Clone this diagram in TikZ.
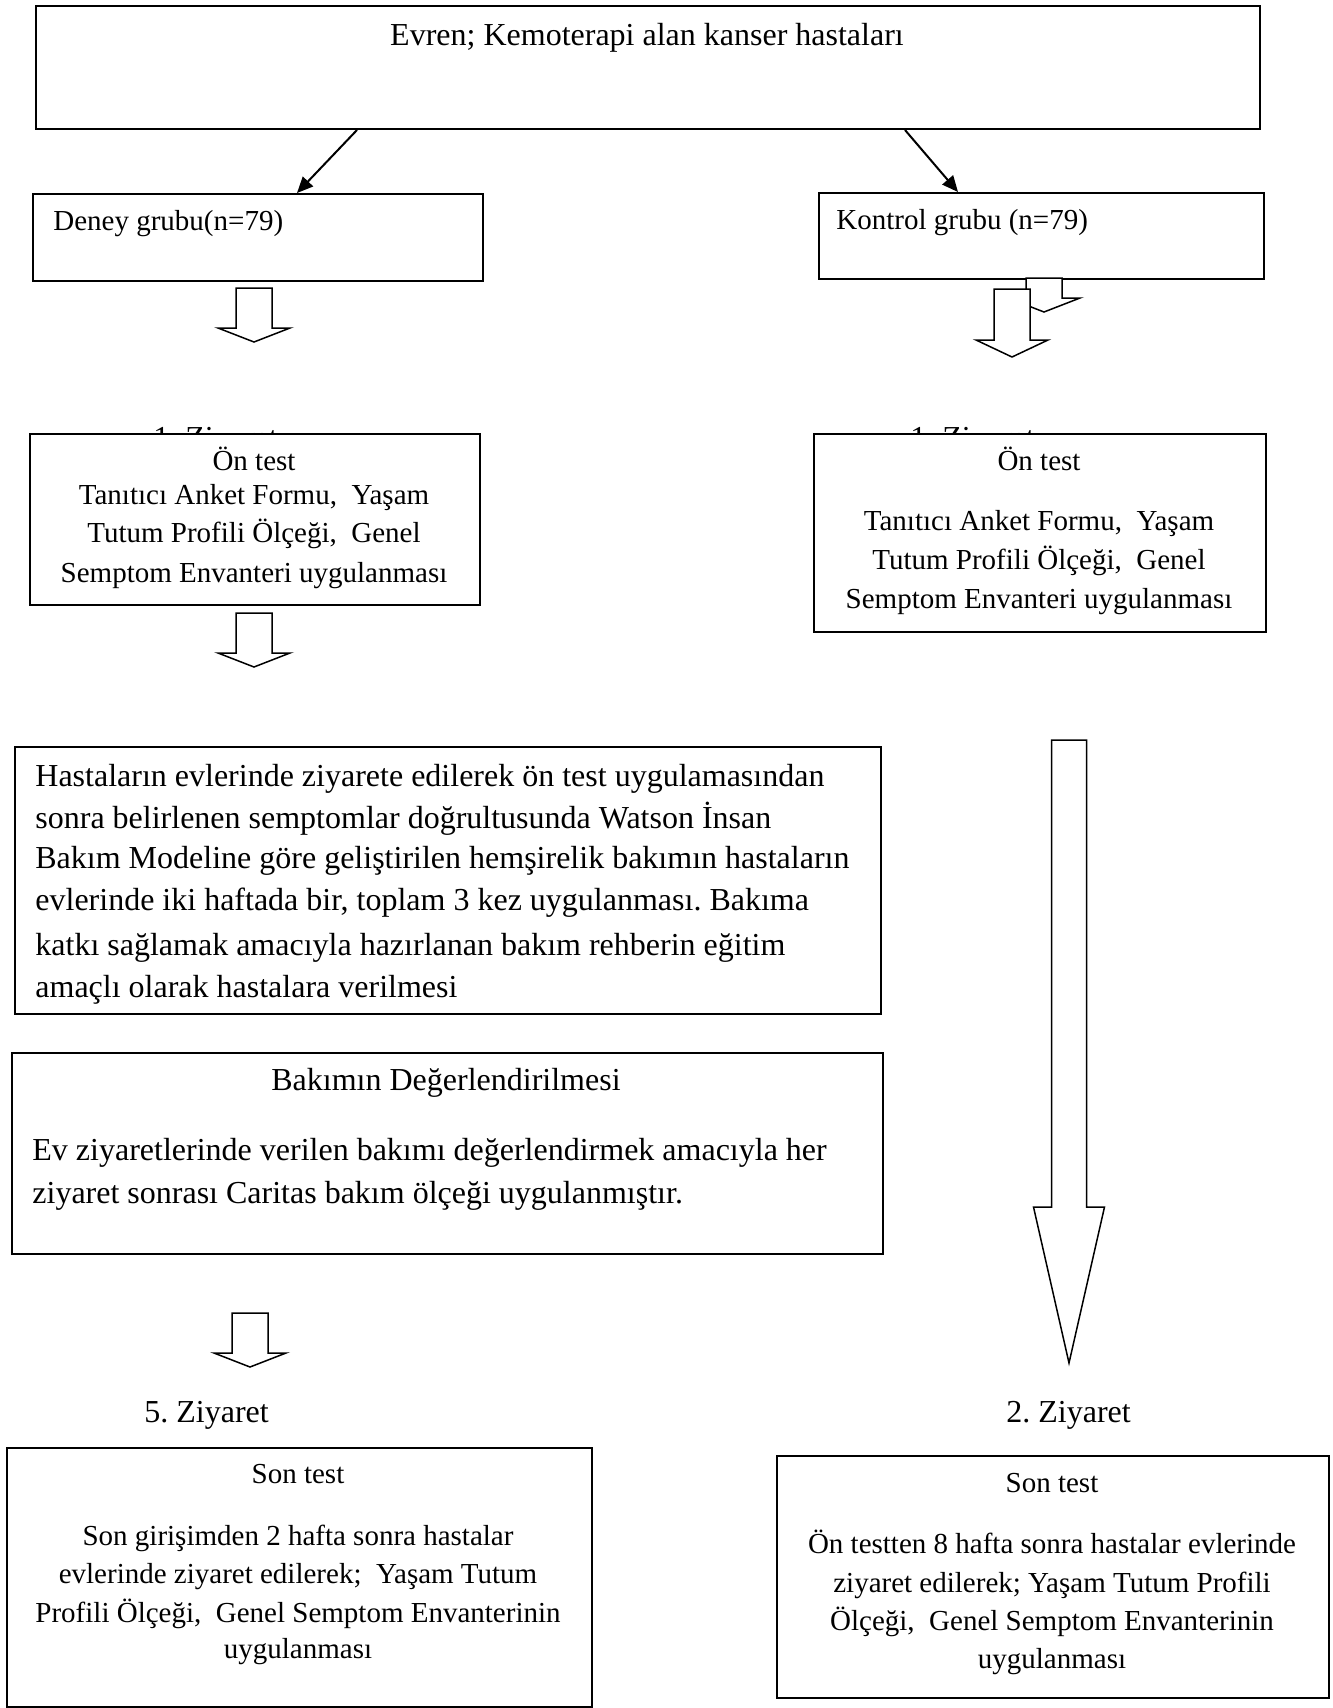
\documentclass[tikz,border=0pt]{standalone}
\usepackage{fontspec}
\setmainfont{Liberation Serif}
\usetikzlibrary{arrows.meta}
\frenchspacing

\tikzset{
  kutu/.style={draw,line width=1pt,fill=white,inner sep=0pt,anchor=north west},
  metin/.style={font=\fontsize{14.5}{17}\selectfont,inner sep=0pt},
  buyuk/.style={font=\fontsize{16}{19}\selectfont,inner sep=0pt},
  blok/.style={draw,line width=0.75pt,fill=white,line join=miter},
  ok/.style={line width=1pt,-{Triangle[length=8pt,width=7pt]}}
}
% bos blok ok: x, yarim govde, yarim bas, ust, bas ustu, uc
\newcommand{\blokok}[6]{%
  \draw[blok] (#1-#2,#4) -- (#1+#2,#4) -- (#1+#2,#5) -- (#1+#3,#5) -- (#1,#6)
    -- (#1-#3,#5) -- (#1-#2,#5) -- cycle;}

\begin{document}
\begin{tikzpicture}[x=0.5pt,y=-0.5pt,line cap=butt]
\useasboundingbox (0,0) rectangle (1333,1708);
% ust kisim
\node[kutu,minimum width=612pt,minimum height=61.5pt] (evren) at (35,5) {};
\node[buyuk,anchor=base] (evrenyazi) at (647,45) {Evren; Kemoterapi alan kanser hastaları};
\node[kutu,minimum width=225pt,minimum height=43.5pt] (deney) at (32,193) {};
\node[metin,anchor=base west] (deneyyazi) at (53,230) {Deney grubu(n=79)};
\node[kutu,minimum width=222.5pt,minimum height=43pt] (kontrol) at (818,192) {};
\node[metin,anchor=base west] (kontrolyazi) at (836,229) {Kontrol grubu (n=79)};
\draw[ok] ([xshift=161pt]evren.south west) -- ([xshift=132.5pt]deney.north west);
\draw[ok] ([xshift=435pt]evren.south west) -- ([xshift=70pt]kontrol.north west);
\blokok{254}{18}{36}{288}{328}{342}
\blokok{1044}{18}{36}{278}{298}{312}
\blokok{1012}{18}{36}{289}{340}{357}

% on test
\node[buyuk,anchor=base west] (ziyA) at (153,448) {1. Ziyaret};
\node[buyuk,anchor=base west] (ziyB) at (910,448) {1. Ziyaret};
\node[kutu,minimum width=225pt,minimum height=85.5pt] (ontestA) at (29,433) {};
\foreach \y/\satir [count=\i] in {470/{Ön test}, 504/{Tanıtıcı Anket Formu,\ \ Yaşam},
  542/{Tutum Profili Ölçeği,\ \ Genel}, 582/{Semptom Envanteri uygulanması}}
  \node[metin,anchor=base] (onA\i) at (254,\y) {\satir};
\node[kutu,minimum width=226pt,minimum height=99pt] (ontestB) at (813,433) {};
\foreach \y/\satir [count=\i] in {470/{Ön test}, 530/{Tanıtıcı Anket Formu,\ \ Yaşam},
  569/{Tutum Profili Ölçeği,\ \ Genel}, 608/{Semptom Envanteri uygulanması}}
  \node[metin,anchor=base] (onB\i) at (1039,\y) {\satir};
\blokok{254}{18}{36}{613}{653}{667}
\blokok{1069}{17.5}{35.5}{740}{1207}{1363}

% bakim
\node[kutu,minimum width=433pt,minimum height=133.5pt] (bakim) at (14,746) {};
\foreach \y/\satir [count=\i] in {786/{Hastaların evlerinde ziyarete edilerek ön test uygulamasından},
  828/{sonra belirlenen semptomlar doğrultusunda Watson İnsan},
  868/{Bakım Modeline göre geliştirilen hemşirelik bakımın hastaların},
  910/{evlerinde iki haftada bir, toplam 3 kez uygulanması. Bakıma},
  955/{katkı sağlamak amacıyla hazırlanan bakım rehberin eğitim},
  997/{amaçlı olarak hastalara verilmesi}}
  \node[buyuk,anchor=base west] (bk\i) at (35,\y) {\satir};
\node[kutu,minimum width=435.5pt,minimum height=100.5pt] (deger) at (11,1052) {};
\node[buyuk,anchor=base] (degerbaslik) at (446,1090) {Bakımın Değerlendirilmesi};
\node[buyuk,anchor=base west] (deger1) at (32,1160) {Ev ziyaretlerinde verilen bakımı değerlendirmek amacıyla her};
\node[buyuk,anchor=base west] (deger2) at (32,1203) {ziyaret sonrası Caritas bakım ölçeği uygulanmıştır.};
\blokok{250}{18}{36}{1313}{1353}{1367}

% son test
\node[buyuk,anchor=base west] (ziyC) at (144,1422) {5. Ziyaret};
\node[buyuk,anchor=base west] (ziyD) at (1006,1422) {2. Ziyaret};
\node[kutu,minimum width=292.5pt,minimum height=129.5pt] (sonA) at (6,1447) {};
\foreach \y/\satir [count=\i] in {1483/{Son test}, 1545/{Son girişimden 2 hafta sonra hastalar},
  1583/{evlerinde ziyaret edilerek;\ \ Yaşam Tutum}, 1622/{Profili Ölçeği,\ \ Genel Semptom Envanterinin},
  1658/{uygulanması}}
  \node[metin,anchor=base] (snA\i) at (298,\y) {\satir};
\node[kutu,minimum width=276pt,minimum height=121pt] (sonB) at (776,1455) {};
\foreach \y/\satir [count=\i] in {1492/{Son test}, 1553/{Ön testten 8 hafta sonra hastalar evlerinde},
  1592/{ziyaret edilerek; Yaşam Tutum Profili}, 1630/{Ölçeği,\ \ Genel Semptom Envanterinin},
  1668/{uygulanması}}
  \node[metin,anchor=base] (snB\i) at (1052,\y) {\satir};
\end{tikzpicture}
\end{document}
